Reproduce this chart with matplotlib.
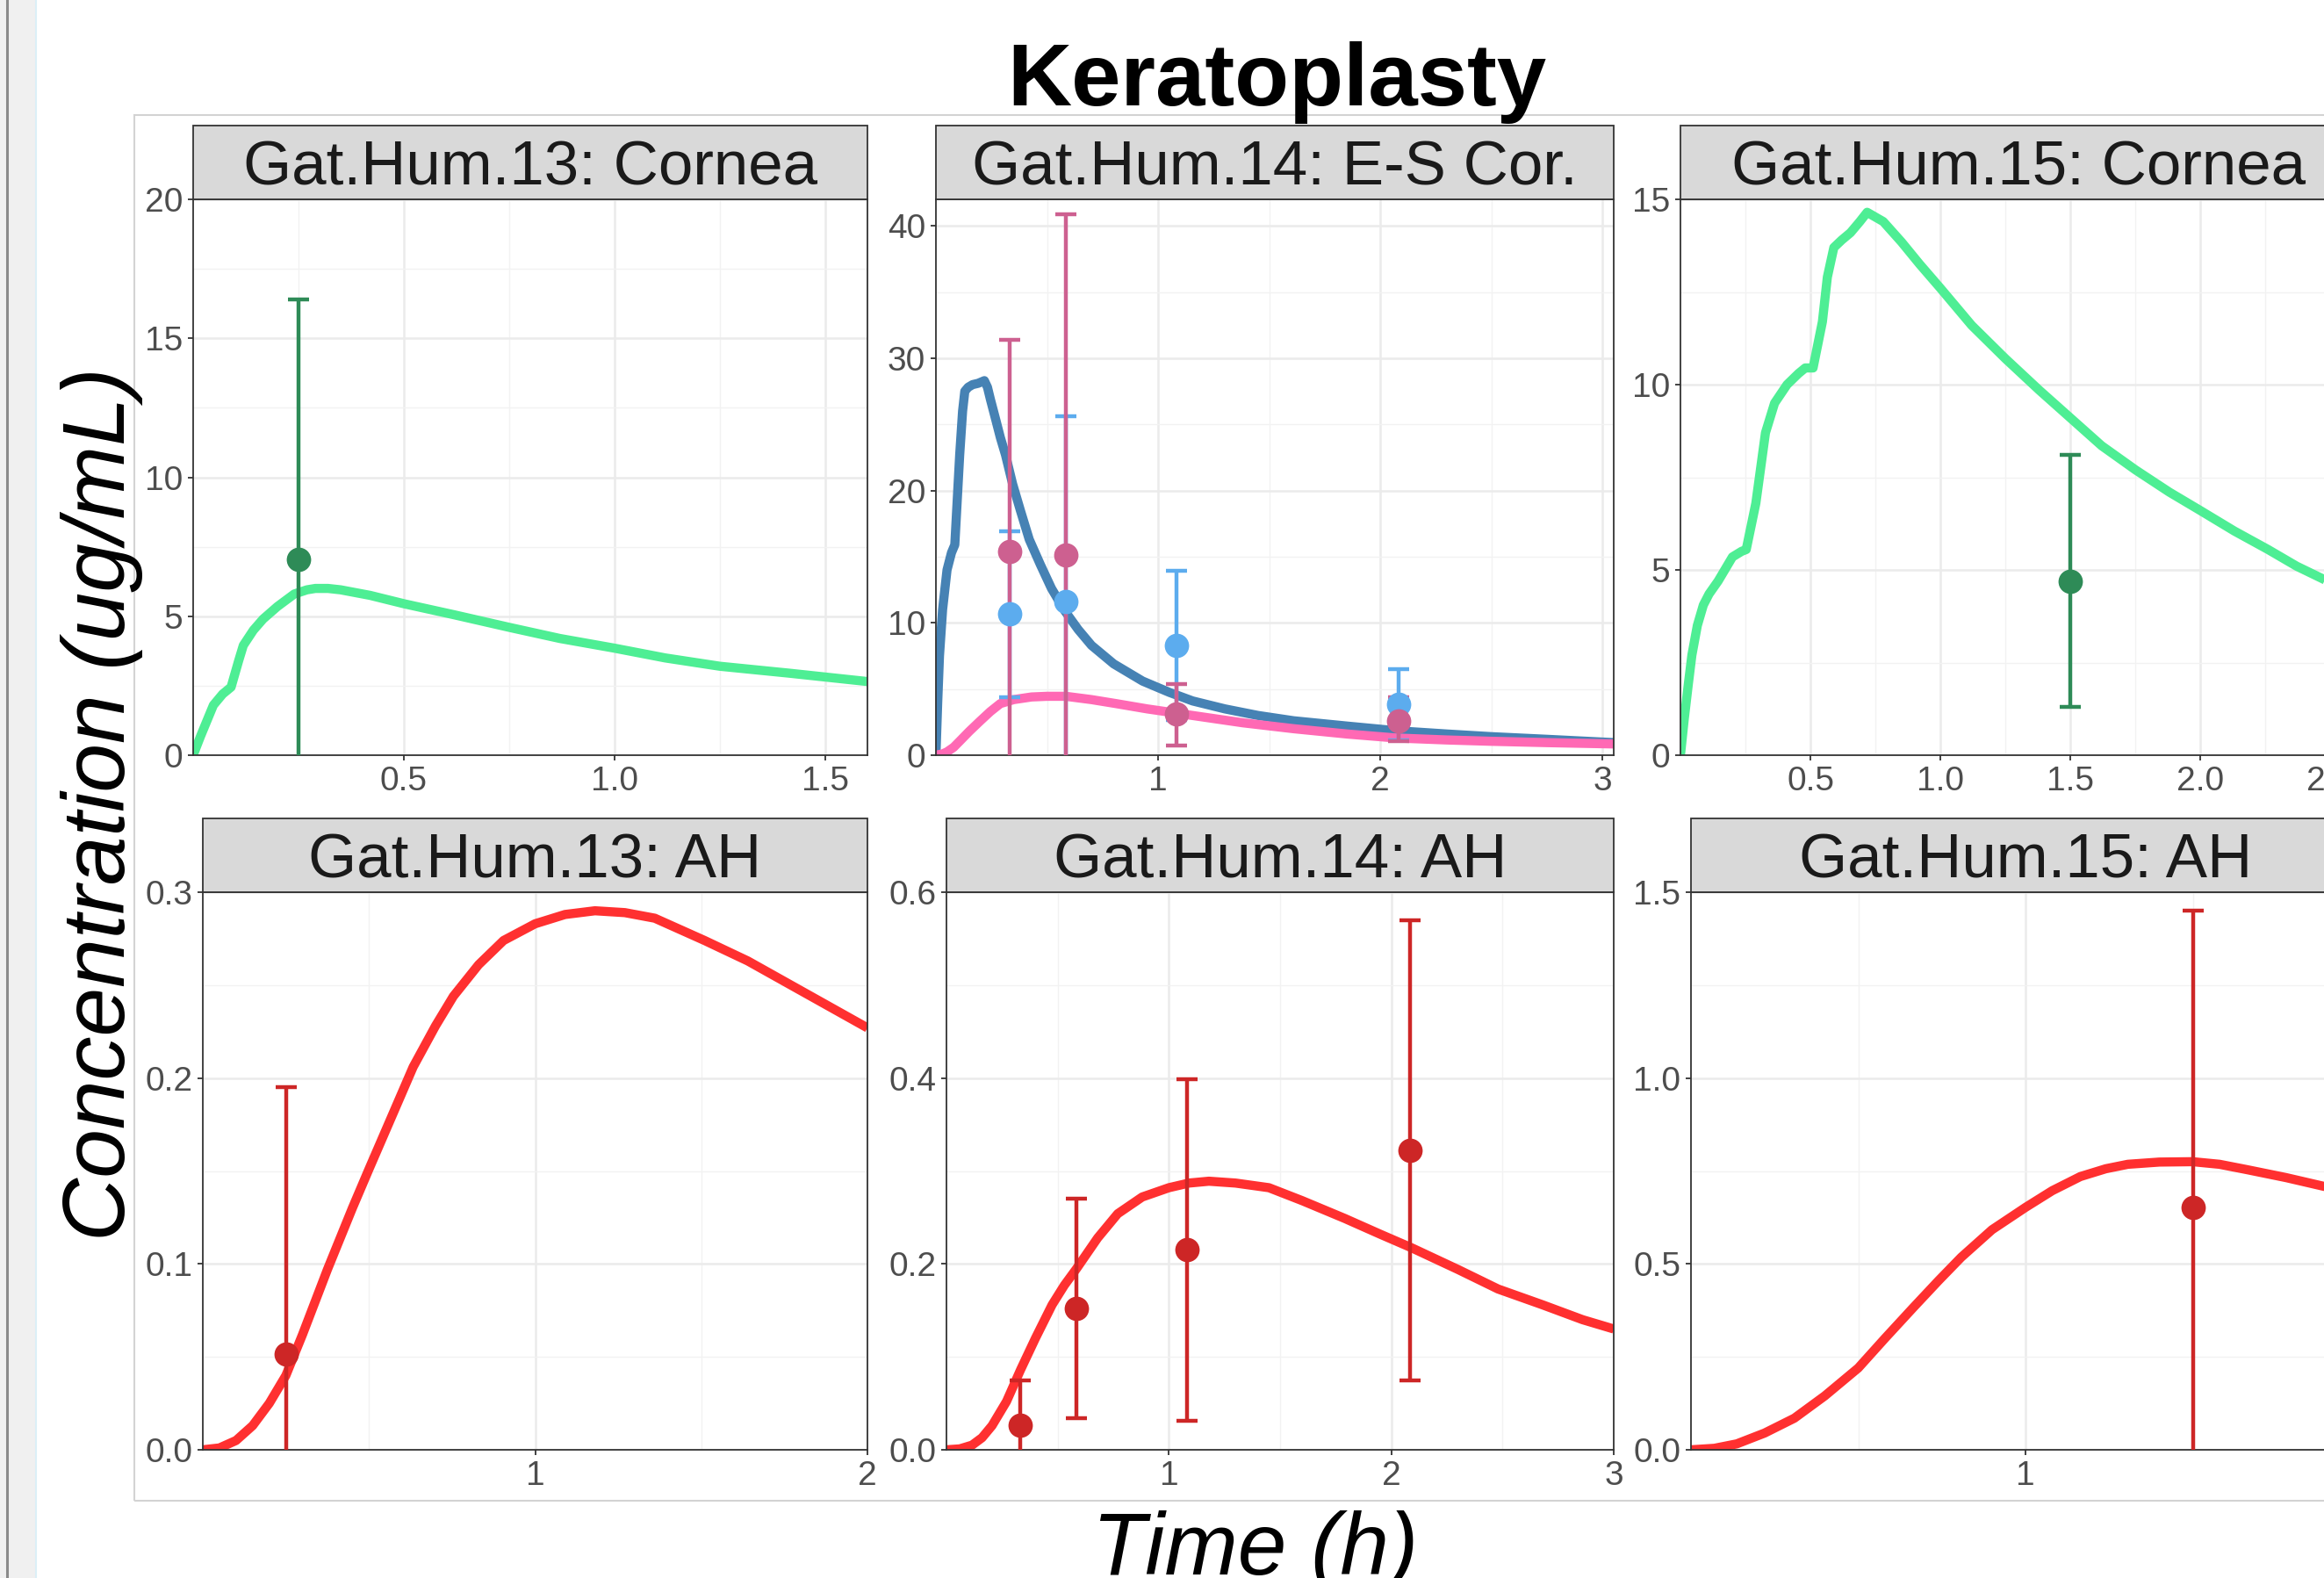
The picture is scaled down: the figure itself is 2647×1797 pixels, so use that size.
import matplotlib
matplotlib.use("Agg")
import matplotlib.pyplot as plt
from matplotlib.patches import Rectangle
from matplotlib.lines import Line2D

plt.rcParams['font.family'] = ['Liberation Sans', 'DejaVu Sans']

# ---- model curves (time h, concentration) ----
t_13_cornea = [0, 0.018, 0.048, 0.07, 0.09, 0.108, 0.119, 0.143, 0.166, 0.2, 0.24, 0.27,
               0.29, 0.32, 0.35, 0.42, 0.5, 0.62, 0.75, 0.87, 1.0, 1.12, 1.25, 1.415, 1.6]
c_13_cornea = [0, 0.7, 1.8, 2.2, 2.45, 3.4, 3.95, 4.5, 4.9, 5.35, 5.8, 5.95,
               6.0, 6.0, 5.95, 5.75, 5.45, 5.05, 4.6, 4.2, 3.85, 3.5, 3.2, 2.95, 2.65]

t_14_es_blue = [0, 0.008, 0.016, 0.03, 0.05, 0.07, 0.085, 0.095, 0.107, 0.12, 0.13, 0.145,
                0.165, 0.19, 0.218, 0.232, 0.245, 0.27, 0.29, 0.313, 0.345, 0.38, 0.42,
                0.47, 0.52, 0.58, 0.64, 0.70, 0.8, 0.93, 1.05, 1.155, 1.3, 1.45, 1.61,
                1.85, 2.07, 2.3, 2.5, 2.75, 3.05]
c_14_es_blue = [0, 4.0, 7.5, 11.0, 14.0, 15.3, 15.9, 19.0, 22.7, 26.0, 27.5, 27.8,
                28.0, 28.1, 28.3, 27.8, 26.9, 25.3, 24.0, 22.7, 20.5, 18.5, 16.3,
                14.4, 12.6, 10.9, 9.5, 8.3, 6.9, 5.6, 4.75, 4.1, 3.5, 3.0, 2.6,
                2.2, 1.85, 1.6, 1.4, 1.2, 0.95]

t_14_es_pink = [0, 0.03, 0.05, 0.08, 0.107, 0.15, 0.2, 0.245, 0.29, 0.35, 0.43, 0.5, 0.585,
                0.7, 0.81, 0.95, 1.155, 1.38, 1.61, 1.85, 2.07, 2.3, 2.5, 2.75, 3.05]
c_14_es_pink = [0, 0.1, 0.25, 0.6, 1.06, 1.8, 2.6, 3.3, 3.9, 4.2, 4.4, 4.45, 4.45,
                4.2, 3.9, 3.5, 3.0, 2.45, 2.0, 1.6, 1.3, 1.15, 1.05, 0.95, 0.85]

t_15_cornea = [0, 0.015, 0.03, 0.044, 0.065, 0.088, 0.11, 0.145, 0.2, 0.235, 0.253, 0.29,
               0.327, 0.362, 0.41, 0.454, 0.48, 0.51, 0.546, 0.565, 0.59, 0.62, 0.654,
               0.69, 0.718, 0.78, 0.85, 0.92, 1.0, 1.12, 1.25, 1.38, 1.5, 1.62, 1.75,
               1.88, 2.0, 2.13, 2.26, 2.37, 2.47, 2.6]
c_15_cornea = [0, 1.0, 1.9, 2.7, 3.5, 4.05, 4.35, 4.7, 5.35, 5.5, 5.55, 6.8,
               8.7, 9.5, 10.0, 10.3, 10.45, 10.45, 11.7, 12.9, 13.7, 13.9, 14.1,
               14.4, 14.65, 14.4, 13.85, 13.25, 12.6, 11.6, 10.7, 9.85, 9.1, 8.35, 7.7,
               7.1, 6.6, 6.05, 5.55, 5.1, 4.76, 4.3]

t_13_ah = [0, 0.05, 0.1, 0.15, 0.2, 0.25, 0.3, 0.375, 0.45, 0.5, 0.575, 0.633, 0.7, 0.754,
           0.83, 0.905, 1.0, 1.09, 1.18, 1.27, 1.36, 1.51, 1.64, 1.765, 1.88, 2.0]
c_13_ah = [0, 0.001, 0.005, 0.013, 0.025, 0.040, 0.062, 0.097, 0.13, 0.151, 0.182, 0.206,
           0.228, 0.244, 0.261, 0.274, 0.283, 0.288, 0.290, 0.289, 0.286, 0.274, 0.263,
           0.2505, 0.239, 0.227]

t_14_ah = [0, 0.06, 0.115, 0.16, 0.205, 0.27, 0.333, 0.4, 0.475, 0.53, 0.585, 0.68, 0.77,
           0.88, 1.0, 1.09, 1.18, 1.3, 1.45, 1.6, 1.79, 1.95, 2.09, 2.3, 2.48, 2.68, 2.86, 3.0]
c_14_ah = [0, 0.001, 0.005, 0.013, 0.026, 0.052, 0.086, 0.12, 0.156, 0.177, 0.195, 0.228,
           0.254, 0.272, 0.282, 0.287, 0.289, 0.287, 0.282, 0.268, 0.249, 0.232, 0.2175,
           0.194, 0.173, 0.156, 0.140, 0.130]

t_15_ah = [0, 0.07, 0.137, 0.22, 0.309, 0.4, 0.5, 0.58, 0.665, 0.74, 0.808, 0.9, 1.0, 1.08,
           1.164, 1.24, 1.306, 1.4, 1.5, 1.58, 1.66, 1.78, 1.90, 2.0]
c_15_ah = [0, 0.004, 0.016, 0.045, 0.085, 0.145, 0.22, 0.30, 0.383, 0.455, 0.518, 0.592,
           0.652, 0.697, 0.735, 0.756, 0.768, 0.774, 0.775, 0.768, 0.754, 0.732, 0.707, 0.685]

# ---- observations: time, mean, lower, upper ----
obs_t_13 = [0.25]
obs_13_cornea = [7.05]
obs_13_cornea_lo = [-2.3]
obs_13_cornea_hi = [16.4]

obs_t_14 = [0.333, 0.585, 1.083, 2.083]
obs_14_blue = [10.65, 11.6, 8.3, 3.85]
obs_14_blue_lo = [4.4, -2.4, 2.65, 1.15]
obs_14_blue_hi = [16.9, 25.6, 13.95, 6.5]
obs_14_pink = [15.4, 15.1, 3.1, 2.6]
obs_14_pink_lo = [-0.6, -10.7, 0.7, 1.05]
obs_14_pink_hi = [31.4, 40.9, 5.4, 4.4]

obs_t_15 = [1.5]
obs_15_cornea = [4.7]
obs_15_cornea_lo = [1.3]
obs_15_cornea_hi = [8.1]

obs_13_ah = [0.0516]
obs_13_ah_lo = [-0.092]
obs_13_ah_hi = [0.195]

obs_14_ah = [0.026, 0.152, 0.215, 0.322]
obs_14_ah_lo = [-0.023, 0.034, 0.031, 0.075]
obs_14_ah_hi = [0.075, 0.270, 0.399, 0.570]

obs_15_ah = [0.652]
obs_15_ah_lo = [-0.146]
obs_15_ah_hi = [1.45]

GREEN_LINE, GREEN_PT = '#4EEE94', '#2E8B57'
RED_LINE, RED_PT = '#FF3030', '#CD2626'

panels = [
    dict(box=(220, 988, 227, 860), strip='Gat.Hum.13: Cornea',
         xlim=(0, 1.6), ylim=(0, 20),
         xticks=[0.5, 1.0, 1.5], xlab=['0.5', '1.0', '1.5'], xminor=[0.25, 0.75, 1.25],
         yticks=[0, 5, 10, 15, 20], ylab=['0', '5', '10', '15', '20'], yminor=[2.5, 7.5, 12.5, 17.5],
         curves=[(t_13_cornea, c_13_cornea, GREEN_LINE)],
         obs=[(obs_t_13, obs_13_cornea, obs_13_cornea_lo, obs_13_cornea_hi, GREEN_PT)]),
    dict(box=(1066, 1838, 227, 860), strip='Gat.Hum.14: E-S Cor.',
         xlim=(0, 3.05), ylim=(0, 42),
         xticks=[1, 2, 3], xlab=['1', '2', '3'], xminor=[0.5, 1.5, 2.5],
         yticks=[0, 10, 20, 30, 40], ylab=['0', '10', '20', '30', '40'], yminor=[5, 15, 25, 35],
         curves=[(t_14_es_blue, c_14_es_blue, '#4682B4'), (t_14_es_pink, c_14_es_pink, '#FF69B4')],
         obs=[(obs_t_14, obs_14_blue, obs_14_blue_lo, obs_14_blue_hi, '#5CACEE'),
              (obs_t_14, obs_14_pink, obs_14_pink_lo, obs_14_pink_hi, '#CD6090')]),
    dict(box=(1914, 2684, 227, 860), strip='Gat.Hum.15: Cornea',
         xlim=(0, 2.6), ylim=(0, 15),
         xticks=[0.5, 1.0, 1.5, 2.0, 2.5], xlab=['0.5', '1.0', '1.5', '2.0', '2.5'],
         xminor=[0.25, 0.75, 1.25, 1.75, 2.25],
         yticks=[0, 5, 10, 15], ylab=['0', '5', '10', '15'], yminor=[2.5, 7.5, 12.5],
         curves=[(t_15_cornea, c_15_cornea, GREEN_LINE)],
         obs=[(obs_t_15, obs_15_cornea, obs_15_cornea_lo, obs_15_cornea_hi, GREEN_PT)]),
    dict(box=(231, 988, 1016, 1651), strip='Gat.Hum.13: AH',
         xlim=(0, 2), ylim=(0, 0.3),
         xticks=[1, 2], xlab=['1', '2'], xminor=[0.5, 1.5],
         yticks=[0, 0.1, 0.2, 0.3], ylab=['0.0', '0.1', '0.2', '0.3'], yminor=[0.05, 0.15, 0.25],
         curves=[(t_13_ah, c_13_ah, RED_LINE)],
         obs=[(obs_t_13, obs_13_ah, obs_13_ah_lo, obs_13_ah_hi, RED_PT)]),
    dict(box=(1078, 1838, 1016, 1651), strip='Gat.Hum.14: AH',
         xlim=(0, 3), ylim=(0, 0.6),
         xticks=[1, 2, 3], xlab=['1', '2', '3'], xminor=[0.5, 1.5, 2.5],
         yticks=[0, 0.2, 0.4, 0.6], ylab=['0.0', '0.2', '0.4', '0.6'], yminor=[0.1, 0.3, 0.5],
         curves=[(t_14_ah, c_14_ah, RED_LINE)],
         obs=[(obs_t_14, obs_14_ah, obs_14_ah_lo, obs_14_ah_hi, RED_PT)]),
    dict(box=(1926, 2688, 1016, 1651), strip='Gat.Hum.15: AH',
         xlim=(0, 2), ylim=(0, 1.5),
         xticks=[1, 2], xlab=['1', '2'], xminor=[0.5, 1.5],
         yticks=[0, 0.5, 1.0, 1.5], ylab=['0.0', '0.5', '1.0', '1.5'], yminor=[0.25, 0.75, 1.25],
         curves=[(t_15_ah, c_15_ah, RED_LINE)],
         obs=[(obs_t_15, obs_15_ah, obs_15_ah_lo, obs_15_ah_hi, RED_PT)]),
]

W, H = 2647, 1797
fig = plt.figure(figsize=(W / 100, H / 100), dpi=100)
fig.patch.set_facecolor('white')

STRIP_PX = 84

for p in panels:
    left, right, top, bottom = p['box']
    ax = fig.add_axes([left / W, 1 - bottom / H, (right - left) / W, (bottom - top) / H])
    ax.set_xlim(*p['xlim'])
    ax.set_ylim(*p['ylim'])

    # grid like theme_bw
    ax.set_xticks(p['xticks'])
    ax.set_xticklabels(p['xlab'])
    ax.set_yticks(p['yticks'])
    ax.set_yticklabels(p['ylab'])
    ax.set_xticks(p['xminor'], minor=True)
    ax.set_yticks(p['yminor'], minor=True)
    ax.grid(True, which='major', color='#EBEBEB', lw=1.8, zorder=0)
    ax.grid(True, which='minor', color='#F2F2F2', lw=1.0, zorder=0)
    ax.set_axisbelow(True)
    ax.tick_params(which='major', length=4.5, width=1.3, color='#333333',
                   labelsize=28, labelcolor='#4D4D4D', pad=4)
    ax.tick_params(which='minor', length=0)
    for s in ax.spines.values():
        s.set_color('#333333')
        s.set_linewidth(1.3)

    for t, c, col in p['curves']:
        ax.plot(t, c, color=col, lw=7.5, solid_capstyle='butt', solid_joinstyle='round', zorder=2)

    for t, m, lo, hi, col in p['obs']:
        yerr = [[mi - l for mi, l in zip(m, lo)], [h - mi for mi, h in zip(m, hi)]]
        ax.errorbar(t, m, yerr=yerr, fmt='none', ecolor=col, elinewidth=3.2,
                    capsize=8.6, capthick=3.2, zorder=3)
    for t, m, lo, hi, col in p['obs']:
        ax.plot(t, m, 'o', color=col, markersize=20, markeredgewidth=0, zorder=4)

    # facet strip
    sh = STRIP_PX / (bottom - top)
    ax.add_patch(Rectangle((0, 1), 1, sh, transform=ax.transAxes, clip_on=False,
                           facecolor='#D9D9D9', edgecolor='#333333', lw=1.3, zorder=5))
    ax.text(0.5, 1 + sh / 2, p['strip'], transform=ax.transAxes, ha='center',
            va='center_baseline', fontsize=51, color='#1A1A1A', zorder=6)

# outer plot border and left window edge
fig.patches.append(Rectangle((153 / W, 1 - 1709 / H), (W + 20 - 153) / W, (1709 - 131) / H,
                             transform=fig.transFigure, fill=False, edgecolor='#D3D3D3',
                             lw=1.5, zorder=-1))
fig.patches.append(Rectangle((0, 0), 41 / W, 1, transform=fig.transFigure,
                             facecolor='#F0F0F0', edgecolor='none', zorder=-1))
fig.lines.append(Line2D([8 / W, 8 / W], [0, 1], transform=fig.transFigure,
                        color='#8A8A8A', lw=2.2))
fig.lines.append(Line2D([41 / W, 41 / W], [0, 1], transform=fig.transFigure,
                        color='#DCEFF7', lw=1.5))

fig.text(1454 / W, 1 - 120 / H, 'Keratoplasty', ha='center', va='baseline',
         fontsize=73, fontweight='bold', color='black')
fig.text(142 / W, 1 - 916 / H, 'Concentration (ug/mL)', rotation=90, rotation_mode='anchor',
         ha='center', va='baseline', fontsize=72, style='italic', color='black')
fig.text(1430 / W, 1 - 1793 / H, 'Time (h)', ha='center', va='baseline',
         fontsize=72, style='italic', color='black')

fig.savefig('out.png', dpi=100)
